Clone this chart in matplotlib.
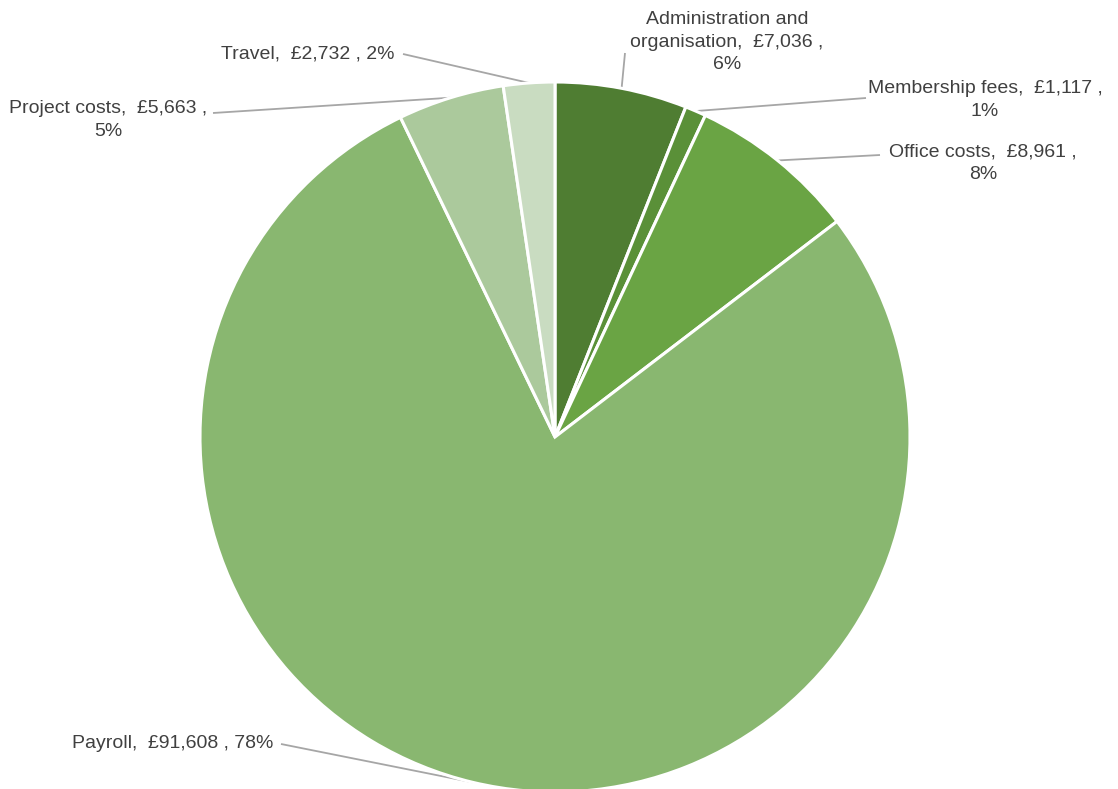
import matplotlib.pyplot as plt
import numpy as np

plt.rcParams["font.family"] = ["Liberation Sans", "DejaVu Sans"]

categories = ["Administration and\norganisation", "Membership fees", "Office costs",
              "Payroll", "Project costs", "Travel"]
amounts = [7036, 1117, 8961, 91608, 5663, 2732]
percents = ["6%", "1%", "8%", "78%", "5%", "2%"]
colors = ["#4f7d32", "#5a9038", "#6aa444", "#89b770", "#abc99c", "#c9dcc1"]

W, H = 1118, 789
fig = plt.figure(figsize=(W / 100, H / 100), dpi=100)
ax = fig.add_axes([0, 0, 1, 1])

# pie centre / radius in pixel space (y measured from top)
cx, cy, r = 555, H - 437, 355

wedges, _ = ax.pie(
    amounts,
    colors=colors,
    startangle=90,
    counterclock=False,
    center=(cx, cy),
    radius=r,
    wedgeprops=dict(edgecolor="white", linewidth=2.2),
)
ax.set_xlim(0, W)
ax.set_ylim(0, H)
ax.set_aspect("equal")
ax.axis("off")

# label block centre and leader-line start (pixels, y from top)
label_pos = [
    ((727, 42), (625, 53), "\n"),
    ((985, 100), (866, 98), "\n"),
    ((983, 163), (880, 155), "\n"),
    ((173, 743), (281, 744), " "),
    ((108, 120), (213, 113), "\n"),
    ((308, 54), (403, 54), " "),
]

for w, cat, amt, pct, (tpos, lstart, sep) in zip(wedges, categories, amounts, percents, label_pos):
    text = f"{cat},  £{amt:,} ,{sep}{pct}"
    ax.text(tpos[0], H - tpos[1], text, ha="center", va="center",
            fontsize=14, color="#404040", linespacing=1.4)
    ang = np.deg2rad((w.theta1 + w.theta2) / 2)
    ex, ey = cx + r * np.cos(ang), cy + r * np.sin(ang)
    ax.plot([lstart[0], ex], [H - lstart[1], ey], color="#a6a6a6", lw=1.3,
            solid_capstyle="butt", zorder=0.5)

fig.savefig("out.png", dpi=100)
